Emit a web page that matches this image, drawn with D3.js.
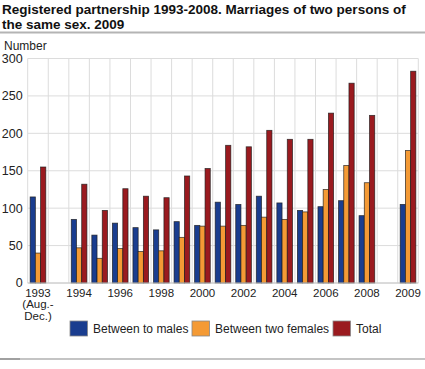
<!DOCTYPE html>
<html>
<head>
<meta charset="utf-8">
<script src="https://cdn.jsdelivr.net/npm/d3@7"></script>
<style>
	body { margin: 0; background: #fff; }
	svg { display: block; font-family: 'Liberation Sans', Arial, sans-serif; }
</style>
</head>
<body>
<svg id="chart" width="425" height="369"></svg>
<script>
'use strict';

// categories, the gap entries are empty slots on the axis
var years = ['1993', 'gap1', '1994', '1995', '1996', '1997', '1998', '1999', '2000', '2001', '2002', '2003', '2004', '2005', '2006', '2007', '2008', 'gap2', '2009'];
var tickLabels = {'1993': ['1993', '(Aug.-', 'Dec.)'], '1994': ['1994'], '1996': ['1996'], '1998': ['1998'], '2000': ['2000'], '2002': ['2002'], '2004': ['2004'], '2006': ['2006'], '2008': ['2008'], '2009': ['2009']};

var males = [115, null, 85, 64, 80, 74, 71, 82, 77, 108, 105, 116, 107, 97, 102, 110, 90, null, 105];
var females = [40, null, 47, 33, 46, 42, 43, 61, 76, 76, 77, 88, 85, 95, 125, 157, 134, null, 177];
var totals = [155, null, 132, 97, 126, 116, 114, 143, 153, 184, 182, 204, 192, 192, 227, 267, 224, null, 283];

var seriesNames = ['Between to males', 'Between two females', 'Total'];
var seriesColors = ['#1a3d8f', '#f49a35', '#9a1a1f'];
var yTicks = [0, 50, 100, 150, 200, 250, 300];

var svg = d3.select('#chart');

// title
var title = svg.append('text').attr('x', 2).attr('y', 14).attr('font-size', 13.5).attr('font-weight', 'bold').attr('fill', '#111');
title.append('tspan').attr('x', 2).text('Registered partnership 1993-2008. Marriages of two persons of');
title.append('tspan').attr('x', 2).attr('dy', 15).text('the same sex. 2009');

svg.append('rect').attr('x', 0).attr('y', 31.5).attr('width', 425).attr('height', 2).attr('fill', '#b4b4b4');

svg.append('text').attr('x', 4).attr('y', 50).attr('font-size', 12).attr('fill', '#222').text('Number');

var margins = { left: 27.7, right: 6.7, top: 58.5, bottom: 86 };
var width = 425 - margins.left - margins.right;
var height = 369 - margins.top - margins.bottom;

var g = svg.append('g').attr('transform', 'translate(' + margins.left + ',' + margins.top + ')');

var x = d3.scaleBand().domain(years).range([0, width]);
var xSub = d3.scaleBand().domain([0, 1, 2]).range([0, x.bandwidth()]).paddingOuter(0.47);
var y = d3.scaleLinear().domain([0, 300]).range([height, 0]);

// grid
g.selectAll('line.hgrid').data(yTicks).enter().append('line').attr('class', 'hgrid')
	.attr('x1', 0).attr('x2', width).attr('y1', function (d) { return y(d); }).attr('y2', function (d) { return y(d); })
	.attr('stroke', '#dcdcdc').attr('stroke-width', 1);

g.selectAll('line.vgrid').data(years.concat(['end'])).enter().append('line').attr('class', 'vgrid')
	.attr('x1', function (d, i) { return i * x.step(); }).attr('x2', function (d, i) { return i * x.step(); })
	.attr('y1', 0).attr('y2', height)
	.attr('stroke', '#dcdcdc').attr('stroke-width', 1);

// y axis labels
g.selectAll('text.ytick').data(yTicks).enter().append('text').attr('class', 'ytick')
	.attr('x', -5).attr('y', function (d) { return y(d); }).attr('dy', '0.35em')
	.attr('text-anchor', 'end').attr('font-size', 12.5).attr('fill', '#222')
	.text(function (d) { return d; });

// bars
var series = [males, females, totals];
series.forEach(function (values, s) {
	g.selectAll('rect.s' + s).data(years).enter().filter(function (d, i) { return values[i] !== null; })
		.append('rect').attr('class', 's' + s)
		.attr('x', function (d) { return x(d) + xSub(s); })
		.attr('width', xSub.bandwidth())
		.attr('y', function (d) { return y(values[years.indexOf(d)]); })
		.attr('height', function (d) { return height - y(values[years.indexOf(d)]); })
		.attr('fill', seriesColors[s])
		.attr('stroke', '#1a1a1a').attr('stroke-width', 0.8).attr('stroke-opacity', 0.8);
});

// x axis line
g.append('line').attr('x1', 0).attr('x2', width).attr('y1', height).attr('y2', height).attr('stroke', '#c8c8c8');

// x labels
var xl = g.selectAll('text.xtick').data(years.filter(function (d) { return tickLabels[d]; })).enter().append('text')
	.attr('class', 'xtick').attr('text-anchor', 'middle').attr('font-size', 11.5).attr('fill', '#222')
	.attr('transform', function (d) { return 'translate(' + (x(d) + x.bandwidth() / 2) + ',' + (height + 13.5) + ')'; });
xl.selectAll('tspan').data(function (d) { return tickLabels[d]; }).enter().append('tspan')
	.attr('x', 0).attr('dy', function (d, i) { return i === 0 ? 0 : 11.5; }).text(function (d) { return d; });

// legend
var legendX = [70, 192, 333];
var legend = svg.selectAll('g.legend').data(seriesNames).enter().append('g').attr('class', 'legend')
	.attr('transform', function (d, i) { return 'translate(' + legendX[i] + ',321)'; });
legend.append('rect').attr('width', 17.5).attr('height', 15)
	.attr('fill', function (d, i) { return seriesColors[i]; })
	.attr('stroke', '#888').attr('stroke-width', 0.8);
legend.append('text').attr('x', 23).attr('y', 12).attr('font-size', 12).attr('fill', '#222').text(function (d) { return d; });

// bottom rule
svg.append('rect').attr('x', 0).attr('y', 358).attr('width', 425).attr('height', 2).attr('fill', '#c4c4c4');
svg.append('rect').attr('x', 0).attr('y', 358).attr('width', 20).attr('height', 2).attr('fill', '#a0a0a0');
</script>
</body>
</html>
